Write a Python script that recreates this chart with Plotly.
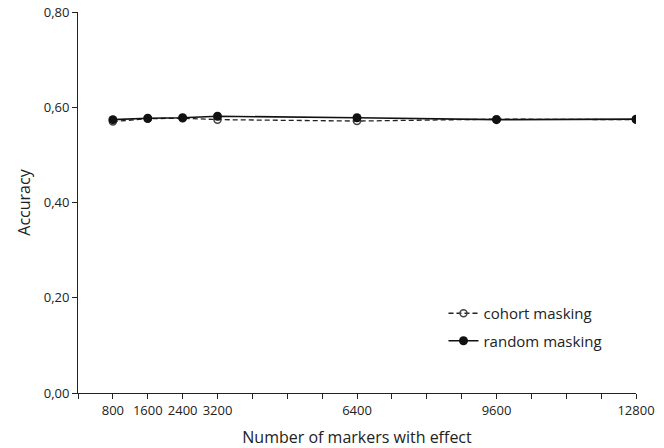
import plotly.graph_objects as go

markers = [800, 1600, 2400, 3200, 6400, 9600, 12800]
cohort = [0.570, 0.576, 0.577, 0.574, 0.571, 0.575, 0.574]
random_m = [0.574, 0.577, 0.578, 0.581, 0.578, 0.574, 0.575]

xtick_vals = [800 * i for i in range(0, 17)]
xtick_labels = {800: "800", 1600: "1600", 2400: "2400", 3200: "3200",
                6400: "6400", 9600: "9600", 12800: "12800"}
ytick_vals = [0.0, 0.2, 0.4, 0.6, 0.8]
ytick_text = ["0,00", "0,20", "0,40", "0,60", "0,80"]

font = "Open Sans, DejaVu Sans, sans-serif"

fig = go.Figure()
fig.add_trace(go.Scatter(
    x=markers, y=cohort, name="cohort masking", mode="lines+markers",
    legendgroup="a",
    line=dict(color="#222222", width=1.3, dash="5px,3px"),
    marker=dict(symbol="circle-open", size=7, color="#444444", line=dict(width=1.5)),
))
fig.add_trace(go.Scatter(
    x=markers, y=random_m, name="random masking", mode="lines+markers",
    legendgroup="b",
    line=dict(color="#111111", width=1.6),
    marker=dict(symbol="circle", size=9, color="#111111"),
))

fig.update_layout(
    width=664, height=448,
    margin=dict(l=78, r=28, t=12, b=55),
    paper_bgcolor="white", plot_bgcolor="white",
    font=dict(family=font, size=13, color="#222222"),
    showlegend=True,
    legend=dict(x=0.655, y=0.252, xanchor="left", yanchor="top",
                font=dict(size=15, color="#222222"), bgcolor="rgba(0,0,0,0)",
                tracegroupgap=5),
)
fig.update_xaxes(
    range=[0, 12800], tickmode="array", tickvals=xtick_vals,
    ticktext=[xtick_labels.get(v, "") for v in xtick_vals],
    ticks="outside", ticklen=5, tickcolor="#222222",
    showline=True, linecolor="#222222", linewidth=1, showgrid=False, zeroline=False,
    title=dict(text="Number of markers with effect", font=dict(size=16), standoff=14),
    tickfont=dict(size=13), automargin=False,
)
fig.update_yaxes(
    range=[0, 0.8], tickmode="array", tickvals=ytick_vals, ticktext=ytick_text,
    ticks="outside", ticklen=5, tickcolor="#222222",
    showline=True, linecolor="#222222", linewidth=1, showgrid=False, zeroline=False,
    title=dict(text="Accuracy", font=dict(size=16), standoff=9),
    tickfont=dict(size=13), automargin=False,
)

fig.write_html("out.html", config={"displayModeBar": False},
               post_script="document.body.style.margin='0px';")
